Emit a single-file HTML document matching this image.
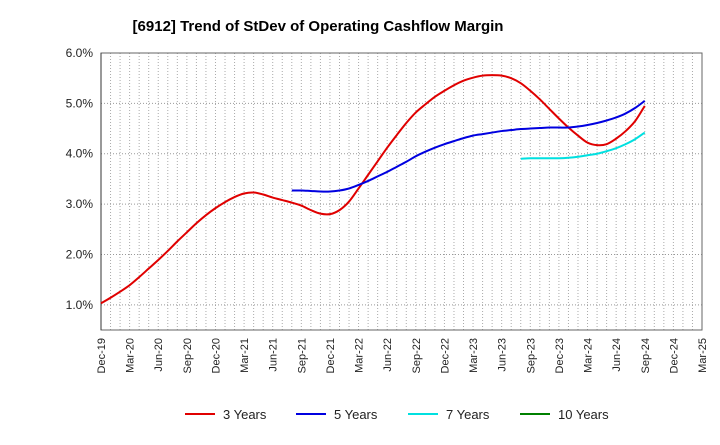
<!DOCTYPE html>
<html><head><meta charset="utf-8"><style>
body{margin:0;background:#fff;font-family:"Liberation Sans",sans-serif}
</style></head><body>
<svg id="c" width="720" height="440" xmlns="http://www.w3.org/2000/svg">
<text x="318" y="31" text-anchor="middle" font-size="15" font-weight="bold" font-family="Liberation Sans,sans-serif">[6912]  Trend of StDev of Operating Cashflow Margin</text>
</svg>
<script>
const xLabels=["Dec-19","Mar-20","Jun-20","Sep-20","Dec-20","Mar-21","Jun-21","Sep-21","Dec-21","Mar-22","Jun-22","Sep-22","Dec-22","Mar-23","Jun-23","Sep-23","Dec-23","Mar-24","Jun-24","Sep-24","Dec-24","Mar-25"];
const yTicks=[1,2,3,4,5,6];
const s3start=0;
const s3=[1.03,1.14,1.26,1.39,1.55,1.72,1.89,2.07,2.26,2.44,2.62,2.78,2.92,3.04,3.14,3.21,3.23,3.19,3.13,3.08,3.03,2.97,2.88,2.81,2.80,2.88,3.05,3.31,3.58,3.85,4.12,4.37,4.61,4.82,4.98,5.13,5.25,5.36,5.45,5.51,5.55,5.56,5.55,5.50,5.40,5.25,5.08,4.89,4.70,4.52,4.36,4.22,4.17,4.19,4.30,4.45,4.65,4.95];
const s5start=20;
const s5=[3.27,3.27,3.26,3.25,3.25,3.27,3.31,3.38,3.46,3.55,3.64,3.74,3.84,3.95,4.04,4.12,4.19,4.25,4.31,4.36,4.39,4.42,4.45,4.47,4.49,4.50,4.51,4.52,4.52,4.52,4.54,4.57,4.61,4.66,4.72,4.80,4.91,5.05];
const s7start=44;
const s7=[3.90,3.91,3.91,3.91,3.91,3.92,3.94,3.97,4.00,4.05,4.11,4.19,4.29,4.42];
const s10=[];
const names=["3 Years","5 Years","7 Years","10 Years"];
const colors=["#e00000","#0000e0","#00e0e0","#008000"];

const svg=document.getElementById('c');const NS="http://www.w3.org/2000/svg";
const L=101,R=702,T=53,B=330,nMonths=63;
const xs=m=>L+m*(R-L)/nMonths;
const ys=v=>B-(v-0.5)*(B-T)/5.5;
function mk(t,a,p){const e=document.createElementNS(NS,t);for(const k in a)e.setAttribute(k,a[k]);(p||svg).appendChild(e);return e;}
const g=mk('g',{});


for(let m=1;m<nMonths;m++)mk('line',{x1:xs(m),x2:xs(m),y1:T,y2:B,stroke:'#aaa','stroke-dasharray':'1,2','stroke-width':1},g);
yTicks.forEach(v=>{mk('line',{x1:L,x2:R,y1:ys(v),y2:ys(v),stroke:'#999','stroke-dasharray':'1,2'},g);
const t=mk('text',{x:L-8,y:ys(v)+4,'text-anchor':'end','font-size':12,fill:'#222'});t.textContent=v.toFixed(1)+'%';

});
const fr=mk('rect',{x:L,y:T,width:R-L,height:B-T,fill:'none',stroke:'#666'});


mk('line',{x1:L,x2:L,y1:T,y2:B,stroke:'#333'});
xLabels.forEach((s,i)=>{const x=xs(i*3);const t=mk('text',{x:x+4,y:B+8,'text-anchor':'end','font-size':11,fill:'#222',transform:`rotate(-90 ${x+4} ${B+8})`});t.textContent=s;

});
function path(pts){if(pts.length<2)return '';let d=`M${pts[0][0]},${pts[0][1]}`;for(let i=0;i<pts.length-1;i++){const p0=pts[i-1]||pts[i],p1=pts[i],p2=pts[i+1],p3=pts[i+2]||p2;d+=` C${p1[0]+(p2[0]-p0[0])/6},${p1[1]+(p2[1]-p0[1])/6} ${p2[0]-(p3[0]-p1[0])/6},${p2[1]-(p3[1]-p1[1])/6} ${p2[0]},${p2[1]}`;}return d;}
[[s3,s3start],[s5,s5start],[s7,s7start],[s10,0]].forEach(([vals,st],k)=>{if(!vals.length)return;const pts=vals.map((v,i)=>[xs(st+i),ys(v)]);const p=mk('path',{d:path(pts),fill:'none',stroke:colors[k],'stroke-width':2});

});
const lx=[185,296,408,520];
names.forEach((n,k)=>{const lg=mk('g',{});


mk('line',{x1:lx[k],x2:lx[k]+30,y1:414,y2:414,stroke:colors[k],'stroke-width':2},lg);const t=mk('text',{x:lx[k]+38,y:419,'font-size':13,fill:'#222'},lg);t.textContent=n;});
</script>
</body></html>
